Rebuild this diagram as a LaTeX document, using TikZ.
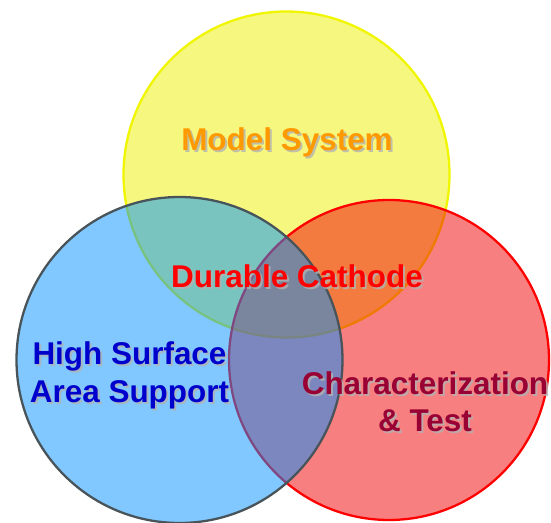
\documentclass[tikz,border=0pt]{standalone}
\usepackage{fontspec}
\setmainfont{Liberation Sans}
\definecolor{sysfill}{RGB}{237,240,0}
\definecolor{sysline}{RGB}{240,245,0}
\definecolor{supfill}{RGB}{1,145,255}
\definecolor{supline}{RGB}{72,84,90}
\definecolor{chrfill}{RGB}{241,0,0}
\definecolor{chrline}{RGB}{255,0,0}
\definecolor{systext}{RGB}{255,153,0}
\definecolor{suptext}{RGB}{0,0,204}
\definecolor{chrtext}{RGB}{153,0,51}
\begin{document}
\begin{tikzpicture}[x=0.02cm, y=-0.02cm, line join=round, line cap=round,
	ring/.style={line width=1.3pt, fill opacity=0.5},
	lbl/.style={font=\fontsize{17.9}{21.6}\selectfont\bfseries, inner sep=0pt, anchor=base, align=center},
	shd/.style={lbl, text=black!30, opacity=0.8}]
	\def\r{163} % radius
	\useasboundingbox (0,0) rectangle (551,523);
	
	% circles
	\draw[ring, draw=sysline, fill=sysfill] (286.5,174.5) circle[radius=\r];
	\draw[ring, draw=chrline, fill=chrfill] (389,360) circle[radius=160];
	\draw[ring, draw=supline, fill=supfill] (179.5,360) circle[radius=\r];
	
	% labels (base = last line)
	\node[shd] (msS) at (289,153) {Model System};
	\node[lbl, text=systext] (ms) at (287,151) {Model System};
	\node[shd] (dcS) at (299,290) {Durable Cathode};
	\node[lbl, text=red] (dc) at (297,288) {Durable Cathode};
	\node[shd] (hsS) at (131.5,404) {High Surface\\Area Support};
	\node[lbl, text=suptext] (hs) at (129.5,402) {High Surface\\Area Support};
	\node[shd] (ctS) at (427,434) {Characterization\\\& Test};
	\node[lbl, text=chrtext] (ct) at (425,432) {Characterization\\\& Test};
\end{tikzpicture}
\end{document}
